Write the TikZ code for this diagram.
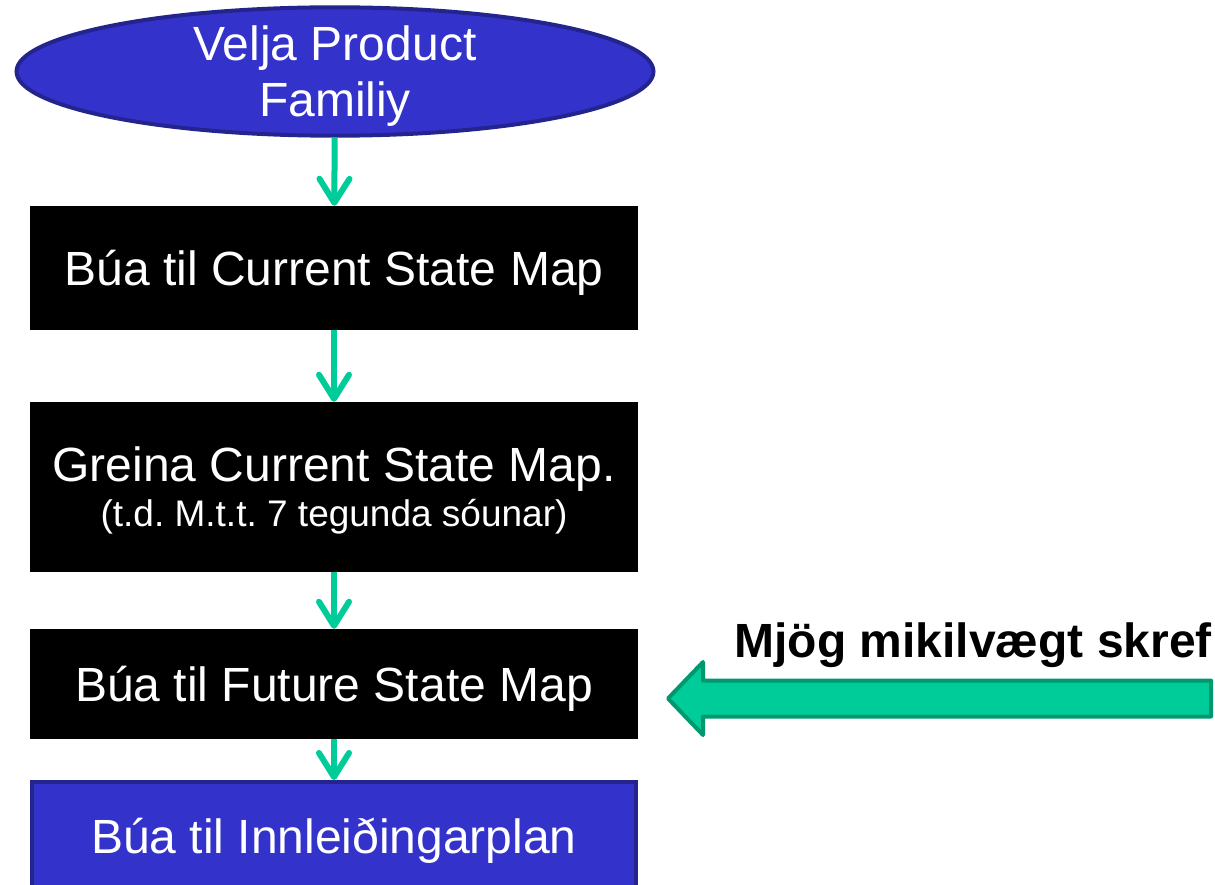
\documentclass[tikz,border=0pt]{standalone}
\usepackage{fontspec}
\setmainfont{Liberation Sans}
\usetikzlibrary{positioning}
\usetikzlibrary{shapes.geometric}
\usetikzlibrary{arrows.meta}

\definecolor{stepblue}{HTML}{3333CC}
\definecolor{stepblueline}{HTML}{24248F}
\definecolor{flowgreen}{HTML}{00CC99}
\definecolor{flowgreenline}{HTML}{00996E}

\frenchspacing

\begin{document}
\begin{tikzpicture}
[x=1pt,y=-1pt,
 oval/.style={shape=ellipse,draw=stepblueline,line width=4pt,fill=stepblue,text=white,
   minimum width=637pt,minimum height=119pt,inner sep=0pt,align=center,text depth=0pt,
   font=\fontsize{48}{56}\selectfont},
 stepbox/.style={shape=rectangle,fill=black,text=white,minimum width=608pt,inner sep=0pt,
   align=center,text depth=0pt,font=\fontsize{48}{56}\selectfont},
 lastbox/.style={stepbox,draw=stepblueline,line width=4pt,fill=stepblue,minimum width=604pt},
 flow/.style={draw=flowgreen,line width=6pt,
   -{Straight Barb[length=24pt,width=30pt,line cap=round,line join=round]}},
 push/.style={draw=flowgreenline,fill=flowgreen,line width=4pt,line join=round}]

\clip (0,0) rectangle (1215,885);

\draw (335,71.5) node (pick) [oval] {Velja Product\\Familiy};
\draw (334,268) node (cur) [stepbox,minimum height=124pt] {Búa til Current State Map};
\draw (334,487) node (study) [stepbox,minimum height=170pt,font=\fontsize{48}{45}\selectfont]
	{Greina Current State Map.\\{\fontsize{37}{45}\selectfont (t.d. M.t.t. 7 tegunda sóunar)}};
\draw (334,684) node (future) [stepbox,minimum height=110pt] {Búa til Future State Map};
\draw (334,836) node (plan) [lastbox,minimum height=108pt] {Búa til Innleiðingarplan};

\draw [flow] (pick) -- (cur);
\draw [flow] (cur) -- (study);
\draw [flow] (study) -- (future);
\draw [flow] (future) -- (plan);

\node (note) [anchor=base west,font=\fontsize{48}{56}\selectfont\bfseries] at (731,657)
	{Mjög mikilvægt skref};

\coordinate (pushtip) at (668,698.5);
\draw [push] (pushtip) -- ++(35,-36.5) -- ++(0,18.5) -- ++(508,0) -- ++(0,36)
	-- ++(-508,0) -- ++(0,18.5) -- cycle;
\end{tikzpicture}
\end{document}
